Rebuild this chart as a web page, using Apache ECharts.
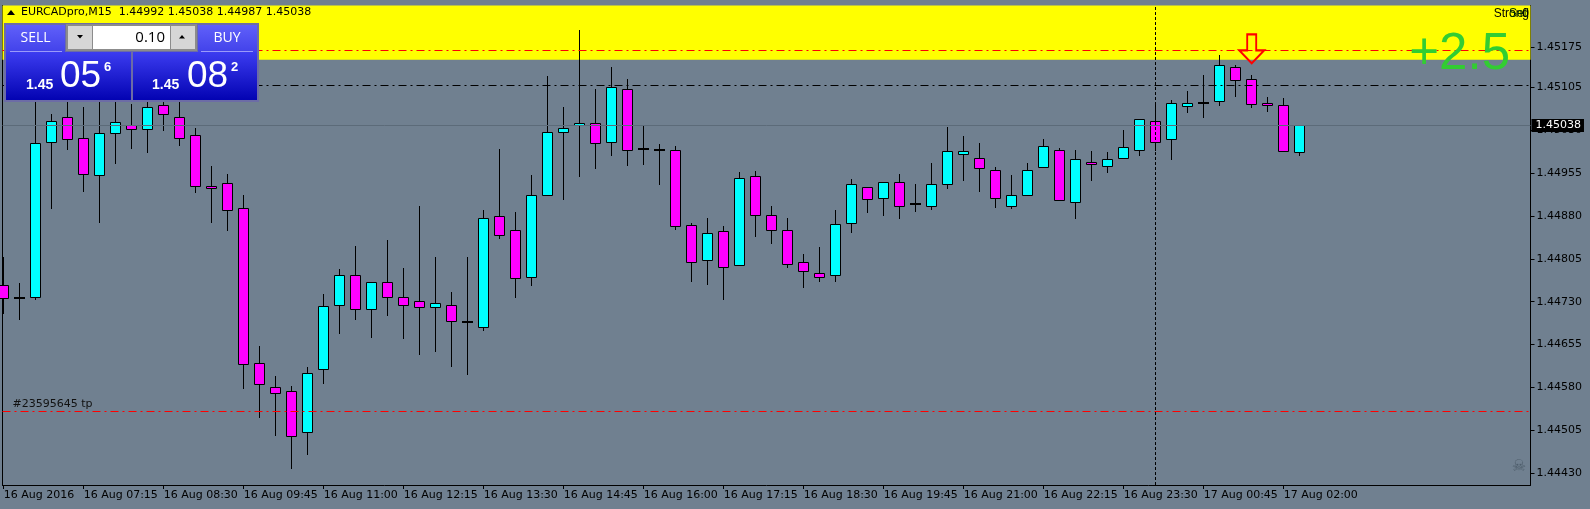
<!DOCTYPE html>
<html><head><meta charset="utf-8">
<script src="https://cdn.jsdelivr.net/npm/echarts@6/dist/echarts.min.js"></script>
<style>html,body{margin:0;padding:0;background:#708090;}#c{width:1590px;height:509px;}</style>
</head><body><div id="c"></div>
<script>
// ---- data (EURCADpro, M15, 16 Aug 06:00 .. 17 Aug 02:15) ----
const opens = [1.44760,1.44737,1.44739,1.45010,1.45052,1.45016,1.44951,1.45024,1.45038,1.45031,
1.45073,1.45052,1.45021,1.44933,1.44937,1.44893,1.44622,1.44581,1.44573,1.44502,
1.44612,1.44725,1.44777,1.44717,1.44765,1.44738,1.44732,1.44720,1.44725,1.44694,
1.44685,1.44879,1.44855,1.44774,1.44916,1.45026,1.45038,1.45042,1.45010,1.45101,
1.44997,1.44996,1.44996,1.44864,1.44802,1.44853,1.44794,1.44949,1.44881,1.44855,
1.44799,1.44780,1.44776,1.44867,1.44930,1.44912,1.44939,1.44900,1.44897,1.44935,
1.44988,1.44981,1.44960,1.44898,1.44916,1.44965,1.44995,1.44905,1.44975,1.44967,
1.44982,1.44996,1.45045,1.45014,1.45072,1.45077,1.45080,1.45140,1.45119,1.45077,
1.45073,1.44992];
const highs = [1.44808,1.44762,1.45086,1.45058,1.45083,1.45070,1.45083,1.45083,1.45076,1.45086,
1.45084,1.45081,1.45033,1.44967,1.44953,1.44917,1.44653,1.44600,1.44583,1.44615,
1.44743,1.44787,1.44827,1.44765,1.44838,1.44789,1.44897,1.44808,1.44747,1.44808,
1.44890,1.44997,1.44887,1.44951,1.45125,1.45070,1.45205,1.45102,1.45140,1.45119,
1.45038,1.45006,1.45002,1.44867,1.44877,1.44862,1.44956,1.44958,1.44897,1.44876,
1.44813,1.44825,1.44890,1.44944,1.44930,1.44939,1.44953,1.44936,1.44972,1.45035,
1.45020,1.45007,1.44965,1.44951,1.44972,1.45014,1.44998,1.44995,1.44993,1.44991,
1.45030,1.45049,1.45075,1.45082,1.45098,1.45126,1.45161,1.45143,1.45126,1.45087,
1.45086,1.45038];
const lows = [1.44711,1.44699,1.44734,1.44894,1.44997,1.44924,1.44869,1.44973,1.44999,1.44992,
1.45030,1.45004,1.44922,1.44869,1.44856,1.44579,1.44529,1.44497,1.44439,1.44463,
1.44587,1.44675,1.44700,1.44669,1.44706,1.44667,1.44639,1.44643,1.44618,1.44604,
1.44681,1.44842,1.44739,1.44760,1.44916,1.44910,1.44950,1.44964,1.44987,1.44969,
1.44971,1.44936,1.44857,1.44767,1.44761,1.44734,1.44794,1.44845,1.44833,1.44790,
1.44756,1.44767,1.44767,1.44852,1.44886,1.44882,1.44877,1.44889,1.44892,1.44928,
1.44943,1.44924,1.44896,1.44894,1.44916,1.44965,1.44907,1.44877,1.44943,1.44956,
1.44982,1.44987,1.44996,1.44979,1.45061,1.45053,1.45073,1.45089,1.45070,1.45063,
1.44993,1.44987];
const closes = [1.44736,1.44737,1.45007,1.45045,1.45014,1.44954,1.45024,1.45044,1.45031,1.45070,
1.45058,1.45017,1.44932,1.44928,1.44890,1.44621,1.44586,1.44570,1.44496,1.44605,
1.44722,1.44777,1.44717,1.44765,1.44739,1.44725,1.44720,1.44727,1.44696,1.44694,
1.44876,1.44846,1.44771,1.44916,1.45026,1.45033,1.45042,1.45007,1.45105,1.44995,
1.44997,1.44996,1.44862,1.44799,1.44850,1.44790,1.44946,1.44881,1.44855,1.44795,
1.44783,1.44773,1.44865,1.44935,1.44909,1.44939,1.44897,1.44900,1.44935,1.44993,
1.44993,1.44963,1.44912,1.44916,1.44960,1.45002,1.44907,1.44979,1.44970,1.44979,
1.45000,1.45049,1.45010,1.45077,1.45078,1.45077,1.45143,1.45117,1.45075,1.45073,
1.44993,1.45038];
const xTickIndex = [0,5,10,15,20,25,30,35,40,45,50,55,60,65,70,75,80];
const xTickLabels = ['16 Aug 2016','16 Aug 07:15','16 Aug 08:30','16 Aug 09:45','16 Aug 11:00',
'16 Aug 12:15','16 Aug 13:30','16 Aug 14:45','16 Aug 16:00','16 Aug 17:15','16 Aug 18:30',
'16 Aug 19:45','16 Aug 21:00','16 Aug 22:15','16 Aug 23:30','17 Aug 00:45','17 Aug 02:00'];
const yTickValues = [1.44430,1.44505,1.44580,1.44655,1.44730,1.44805,1.44880,1.44955,1.45030,1.45105,1.45175];
const currentPrice = 1.45038;
const blackLevel = 1.45108;
const zoneBottom = 1.45153;
const redLevel = 1.45170;
const tpLevel = 1.44539;
const tpText = '#23595645 tp';
const separatorIndex = 72;
const signalIndex = 78;
const signalPrice = 1.45172;
const headerText = 'EURCADpro,M15  1.44992 1.45038 1.44987 1.45038';
const signalText = '+2.5';
const yMin = 1.4440955, yMax = 1.4524775;

const candleData = opens.map((o, i) => [i, o, highs[i], lows[i], closes[i]]);
const closeLine = closes.map((c, i) => [i, c]);

function renderCandle(params, api) {
  const i = api.value(0), o = api.value(1), h = api.value(2), l = api.value(3), c = api.value(4);
  const pO = api.coord([i, o]), pC = api.coord([i, c]), pH = api.coord([i, h]), pL = api.coord([i, l]);
  const fx = Math.floor(pO[0]);
  const cx = fx + 0.5;
  const children = [];
  children.push({type:'line', shape:{x1:cx, y1:Math.round(pH[1]), x2:cx, y2:Math.round(pL[1]) + 1},
    style:{stroke:'#000', lineWidth:1}});
  const top = Math.round(Math.min(pO[1], pC[1])), bot = Math.round(Math.max(pO[1], pC[1]));
  if (o === c) {
    children.push({type:'line', shape:{x1:fx - 5, y1:top, x2:fx + 6, y2:top}, style:{stroke:'#000', lineWidth:2}});
  } else {
    children.push({type:'rect', shape:{x:fx - 4.5, y:top + 0.5, width:10, height:Math.max(bot - top, 1)},
      style:{fill: c > o ? '#00FFFF' : '#FF00FF', stroke:'#000', lineWidth:1}});
  }
  return {type:'group', children};
}

const chart = echarts.init(document.getElementById('c'), null, {renderer:'canvas'});
const dashDot = [8, 4, 2, 4];
const F = "'DejaVu Sans'";
const LS = "'Liberation Sans'";
const OS = "'Open Sans'";
function txt(text, x, y, font, fill, align, z) {
  return {type:'text', x:x, y:y, z: z || 120,
    style:{text:text, font:font, fill:fill, align:align || 'left', textAlign:align || 'left',
      verticalAlign:'middle', textVerticalAlign:'middle'}};
}
const grad = (a, b) => new echarts.graphic.LinearGradient(0, 0, 0, 1, [{offset:0, color:a}, {offset:1, color:b}]);

const option = {
  animation:false,
  backgroundColor:'#708090',
  grid:{left:2.5, right:59.5, top:5.5, bottom:24, containLabel:false},
  xAxis:{type:'value', min:-0.075, max:95.425,
    axisLine:{show:true, onZero:false, lineStyle:{color:'#000', width:1}},
    axisTick:{show:true, customValues:xTickIndex, length:4, lineStyle:{color:'#000'}},
    axisLabel:{show:true, customValues:xTickIndex, formatter:v => xTickLabels[xTickIndex.indexOf(v)],
      align:'left', color:'#000', fontFamily:'DejaVu Sans', fontSize:11, margin:5},
    splitLine:{show:false}},
  yAxis:[
    {type:'value', position:'right', min:yMin, max:yMax,
      axisLine:{show:true, onZero:false, lineStyle:{color:'#000'}},
      axisTick:{show:true, customValues:yTickValues, length:4, lineStyle:{color:'#000'}},
      axisLabel:{show:true, customValues:yTickValues, formatter:v => v.toFixed(5), color:'#000',
        fontFamily:'DejaVu Sans', fontSize:11, margin:6},
      splitLine:{show:false}},
    {type:'value', position:'left', min:yMin, max:yMax,
      axisLine:{show:true, onZero:false, lineStyle:{color:'#000'}},
      axisTick:{show:false}, axisLabel:{show:false}, splitLine:{show:false}}
  ],
  series:[
    {type:'line', data:closeLine, z:0, silent:true, showSymbol:false, symbol:'none',
      lineStyle:{opacity:0},
      markArea:{silent:true, itemStyle:{color:'#FFFF00'}, data:[[{yAxis:zoneBottom}, {yAxis:yMax}]]}},
    {type:'line', data:closeLine, z:1, silent:true, showSymbol:false, symbol:'none',
      lineStyle:{opacity:0},
      markLine:{silent:true, precision:6, symbol:['none','none'], label:{show:false}, animation:false,
        data:[
          {yAxis:currentPrice, lineStyle:{color:'#5c6b79', type:'solid', width:1},
            label:{show:true, position:'end', formatter:currentPrice.toFixed(5), backgroundColor:'#000',
              color:'#fff', fontFamily:'DejaVu Sans', fontSize:11, padding:[1,3,1,4], distance:1}},
          {yAxis:blackLevel, lineStyle:{color:'#000', type:dashDot, width:1}},
          {yAxis:redLevel, lineStyle:{color:'#FF0000', type:dashDot, width:1}},
          {yAxis:tpLevel, lineStyle:{color:'#FF0000', type:dashDot, width:1},
            label:{show:true, position:'insideStartTop', formatter:tpText, color:'#111',
              fontFamily:'DejaVu Sans', fontSize:11, distance:[10, 1]}},
          {xAxis:separatorIndex, lineStyle:{color:'#000', type:[3,2], width:1}}
        ]}},
    {type:'custom', name:'EURCAD', z:3, data:candleData, renderItem:renderCandle,
      encode:{x:0, y:[1,2,3,4]}, clip:false},
    {type:'scatter', z:4, silent:true, data:[[signalIndex, signalPrice]],
      symbol:'path://M8,0 L17,0 L17,16 L25,16 L12.5,29 L0,16 L8,16 Z', symbolSize:[25,29],
      itemStyle:{color:'rgba(0,0,0,0)', borderColor:'#FF0000', borderWidth:2, opacity:1}}
  ],
  graphic:[
    {type:'polygon', z:120, shape:{points:[[7,15],[11,10],[15,15]]}, style:{fill:'#000'}},
    txt(headerText, 21, 12.5, "11px " + F, '#000'),
    txt('Strong', 1529, 13.5, "12px " + LS, '#000', 'right'),
    txt('Sell', 1529, 13.5, "12px " + LS, '#003300', 'right'),
    txt('0', 1529, 13.5, "12px " + LS, '#000', 'right'),
    txt(signalText, 1510, 55, "51px " + LS, '#32CD32', 'right'),
    txt('\u2620', 1519, 467, "16px " + F, '#4e5d6b', 'center'),
    {type:'rect', z:110, shape:{x:4, y:23, width:255, height:79}, style:{fill:'#6c6ca6'}},
    {type:'rect', z:111, shape:{x:6, y:25, width:59, height:27}, style:{fill:grad('#6060fa','#4242ea')}},
    {type:'rect', z:111, shape:{x:198, y:25, width:59, height:27}, style:{fill:grad('#6060fa','#4242ea')}},
    {type:'rect', z:111, shape:{x:6, y:52, width:125, height:48}, style:{fill:grad('#3c3cf0','#0303b2')}},
    {type:'rect', z:111, shape:{x:133, y:52, width:124, height:48}, style:{fill:grad('#3c3cf0','#0303b2')}},
    {type:'line', z:112, shape:{x1:10, y1:51.5, x2:62, y2:51.5}, style:{stroke:'#9a9afa', lineWidth:1}},
    {type:'line', z:112, shape:{x1:201, y1:51.5, x2:253, y2:51.5}, style:{stroke:'#9a9afa', lineWidth:1}},
    {type:'rect', z:111, shape:{x:66, y:24, width:131, height:27}, style:{fill:'#8c8c8c'}},
    {type:'rect', z:112, shape:{x:68, y:26, width:24, height:23}, style:{fill:'#d6d6d6'}},
    {type:'rect', z:112, shape:{x:93, y:26, width:77, height:23}, style:{fill:'#ffffff'}},
    {type:'rect', z:112, shape:{x:171, y:26, width:24, height:23}, style:{fill:'#d6d6d6'}},
    {type:'polygon', z:113, shape:{points:[[77,35],[83,35],[80,38.5]]}, style:{fill:'#000'}},
    {type:'polygon', z:113, shape:{points:[[179,38.5],[185,38.5],[182,35]]}, style:{fill:'#000'}},
    txt('SELL', 35.5, 38, "14px " + OS, '#fff', 'center', 114),
    txt('BUY', 227, 38, "14px " + OS, '#fff', 'center', 114),
    txt('0.10', 165, 37.5, "15px " + OS, '#000', 'right', 114),
    txt('1.45', 26, 85, "bold 14px " + LS, '#fff', 'left', 114),
    txt('05', 60, 77, "37px " + LS, '#fff', 'left', 114),
    txt('6', 104, 67, "bold 13px " + LS, '#fff', 'left', 114),
    txt('1.45', 152, 85, "bold 14px " + LS, '#fff', 'left', 114),
    txt('08', 187, 77, "37px " + LS, '#fff', 'left', 114),
    txt('2', 231, 67, "bold 13px " + LS, '#fff', 'left', 114)
  ]
};
chart.setOption(option);
</script></body></html>
